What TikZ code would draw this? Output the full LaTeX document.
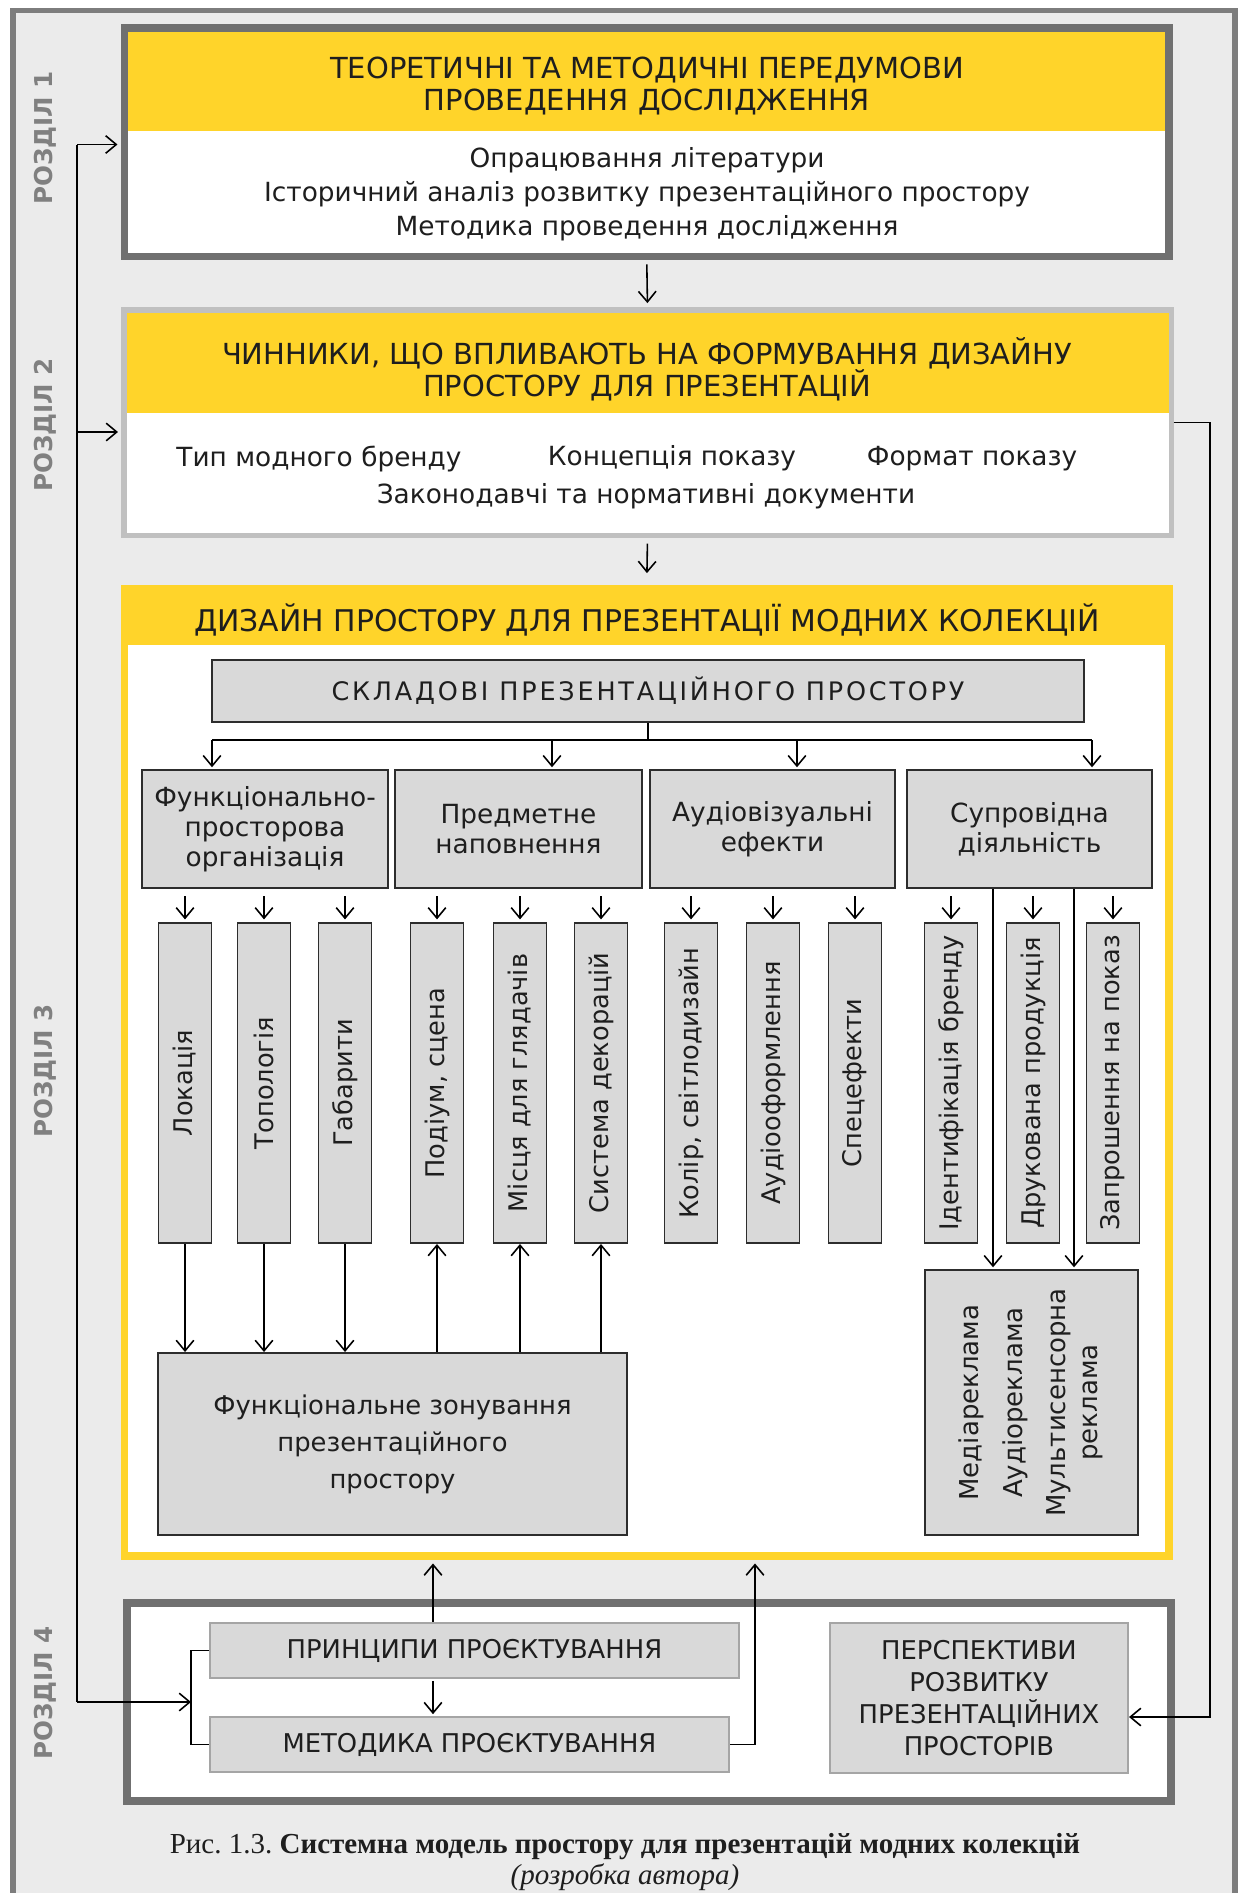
\documentclass[tikz,border=0pt]{standalone}
\usepackage{fontspec}
\setmainfont{DejaVu Sans}
\newfontfamily\captionfont{Liberation Serif}
\newfontfamily\spacedfont[LetterSpace=11]{DejaVu Sans}
\usetikzlibrary{arrows.meta, positioning, fit, calc}
\frenchspacing

\definecolor{yel}{RGB}{255,212,42}
\definecolor{bggray}{RGB}{235,235,235}
\definecolor{outerframe}{RGB}{125,125,125}
\definecolor{darkframe}{RGB}{112,112,112}
\definecolor{lightframe}{RGB}{192,192,192}
\definecolor{boxgray}{RGB}{217,217,217}
\definecolor{boxline}{RGB}{45,45,45}
\definecolor{softline}{RGB}{165,165,165}
\definecolor{labgray}{RGB}{128,128,128}
\definecolor{ink}{RGB}{30,30,30}

\begin{document}
\begin{tikzpicture}[
    x=0.2mm, y=-0.2mm, text=ink,
    band/.style = {fill=yel, inner sep=0pt},
    sheet/.style = {fill=white, inner sep=0pt},
    head/.style = {align=center, font=\fontsize{16.5}{18.3}\selectfont},
    plain/.style = {align=center, font=\fontsize{15}{19.3}\selectfont},
    block/.style = {draw=boxline, fill=boxgray, line width=1.1pt, align=center, inner sep=2pt, font=\fontsize{15}{17}\selectfont},
    slim/.style = {block, minimum width=10.6mm, minimum height=64mm, font=\fontsize{14.6}{17}\selectfont},
    planbox/.style = {draw=softline, fill=boxgray, line width=1.2pt, align=center, font=\fontsize{14.7}{18.2}\selectfont},
    part/.style = {rotate=90, text=labgray, font=\bfseries\fontsize{14}{14}\selectfont},
    link/.style = {draw=black, line width=0.9pt},
    arrow/.style = {link, -{Straight Barb[length=6pt, width=10pt]}}
  ]
  \useasboundingbox (0,0) rectangle (1245,1893);

  % Frame and sections
  \node[fill=bggray, draw=outerframe, line width=3.4pt, inner sep=0pt, fit={(13,10.5) (1235,1905)}] (page) {};
  \node[part] (part1) at (45,138) {РОЗДІЛ 1};
  \node[part] (part2) at (45,425) {РОЗДІЛ 2};
  \node[part] (part3) at (45,1071) {РОЗДІЛ 3};
  \node[part] (part4) at (45,1693) {РОЗДІЛ 4};

  % Section 1
  \node[band, fit={(124.5,28) (1169,130.5)}] (theoryHead) {};
  \node[sheet, fit={(124.5,130.5) (1169,256.5)}] (theoryBody) {};
  \node[draw=darkframe, line width=4pt, inner sep=0pt, fit={(124.5,28) (1169,256.5)}] (theory) {};
  \node[head] (theoryTitle) at (647,86) {ТЕОРЕТИЧНІ ТА МЕТОДИЧНІ ПЕРЕДУМОВИ\\ПРОВЕДЕННЯ ДОСЛІДЖЕННЯ};
  \node[plain] (theoryText) at (647,194.5) {Опрацювання літератури\\Історичний аналіз розвитку презентаційного простору\\Методика проведення дослідження};

  % Section 2
  \node[band, fit={(124,310) (1171,412.5)}] (factorsHead) {};
  \node[sheet, fit={(124,412.5) (1171,535)}] (factorsBody) {};
  \node[draw=lightframe, line width=2.85pt, inner sep=0pt, fit={(124,310) (1171,535)}] (factors) {};
  \node[head] (factorsTitle) at (647,369.5) {ЧИННИКИ, ЩО ВПЛИВАЮТЬ НА ФОРМУВАННЯ ДИЗАЙНУ\\ПРОСТОРУ ДЛЯ ПРЕЗЕНТАЦІЙ};
  \node[plain] (brand) at (319,458.5) {Тип модного бренду};
  \node[plain] (concept) at (672,458.5) {Концепція показу};
  \node[plain] (format) at (972,458.5) {Формат показу};
  \node[plain] (laws) at (646,496) {Законодавчі та нормативні документи};

  % Section 3
  \node[fill=white, draw=yel, line width=4.5pt, inner sep=0pt, fit={(124.5,589) (1169,1556)}] (design) {};
  \node[band, fit={(124.5,589) (1169,645)}] (designHead) {};
  \node[head, font=\fontsize{17}{17}\selectfont] (designTitle) at (647,620) {ДИЗАЙН ПРОСТОРУ ДЛЯ ПРЕЗЕНТАЦІЇ МОДНИХ КОЛЕКЦІЙ};

  \node[block, minimum width=174.4mm, minimum height=12.4mm, font=\spacedfont\fontsize{14.5}{17}\selectfont] (parts) at (648,691) {СКЛАДОВІ ПРЕЗЕНТАЦІЙНОГО ПРОСТОРУ};

  \node[block, minimum width=49.2mm, minimum height=23.6mm] (spatial) at (265,829) {Функціонально-\\просторова\\організація};
  \node[block, minimum width=49.4mm, minimum height=23.6mm] (subject) at (518.5,829) {Предметне\\наповнення};
  \node[block, minimum width=49mm, minimum height=23.6mm] (effects) at (772.5,829) {Аудіовізуальні\\ефекти};
  \node[block, minimum width=49mm, minimum height=23.6mm] (support) at (1029.5,829) {Супровідна\\діяльність};

  \foreach \nm/\x/\lbl in {loc/185/Локація, topo/264/Топологія, dims/345/Габарити,
      stage/437/{Подіум, сцена}, seats/520/{Місця для глядачів}, decor/601/{Система декорацій},
      light/691/{Колір, світлодизайн}, sound/773/Аудіооформлення, sfx/855/Спецефекти,
      ident/951/{Ідентифікація бренду}, print/1033/{Друкована продукція}, invite/1113/{Запрошення на показ}}
    \node[slim] (\nm) at (\x,1083) {\rotatebox{90}{\lbl}};

  \node[block, minimum width=42.6mm, minimum height=53mm, font=\fontsize{14.8}{18.2}\selectfont] (media) at (1031.5,1402.5)
    {\rotatebox{90}{\begin{tabular}{@{}c@{}}Медіареклама\\[7pt]Аудіореклама\\[6pt]Мультисенсорна\\реклама\end{tabular}}};

  \node[block, minimum width=93.8mm, minimum height=36.4mm, font=\fontsize{14.7}{21}\selectfont] (zoning) at (392.5,1444)
    {Функціональне зонування\\презентаційного\\простору};

  % Section 4
  \node[fill=white, draw=darkframe, line width=4.5pt, inner sep=0pt, fit={(127,1603) (1171,1801)}] (project) {};
  \node[planbox, minimum width=105.8mm, minimum height=11mm] (rules) at (474.5,1650.5) {ПРИНЦИПИ ПРОЄКТУВАННЯ};
  \node[planbox, minimum width=103.8mm, minimum height=11mm] (method) at (469.5,1744.5) {МЕТОДИКА ПРОЄКТУВАННЯ};
  \node[planbox, minimum width=59.6mm, minimum height=30mm] (outlook) at (979,1698) {ПЕРСПЕКТИВИ\\РОЗВИТКУ\\ПРЕЗЕНТАЦІЙНИХ\\ПРОСТОРІВ};

  \node[align=center, font=\captionfont\fontsize{16.5}{18}\selectfont] (caption) at (625,1862)
    {Рис. 1.3. \textbf{Системна модель простору для презентацій модних колекцій}\\\textit{(розробка автора)}};

  % Connectors
  \coordinate (busL) at (212,740);
  \coordinate (busB) at (552,740);
  \coordinate (busC) at (797,740);
  \coordinate (busR) at (1092,740);
  \coordinate (mx1) at (993,0);
  \coordinate (mx2) at (1074,0);
  \coordinate (xL) at (433,0);
  \coordinate (xR) at (755,0);
  \coordinate (lbT) at (77,144.5);
  \coordinate (lb2) at (77,432);
  \coordinate (lbB) at (77,1702);
  \coordinate (brk) at (191,1702);
  \coordinate (rb) at (1210,0);

  \draw[arrow, shorten <=2.5pt, shorten >=2.5pt] (theory.south) -- (factors.north);
  \draw[arrow, shorten <=3.5pt, shorten >=6.8pt] (factors.south) -- (design.north);

  \draw[link] (parts.south) -- (parts.south |- busL);
  \draw[link] (busL) -- (busR);
  \draw[arrow, shorten >=1pt] (busL) -- (busL |- spatial.north);
  \draw[arrow, shorten >=1pt] (busB) -- (busB |- subject.north);
  \draw[arrow, shorten >=1pt] (busC) -- (busC |- effects.north);
  \draw[arrow, shorten >=1pt] (busR) -- (busR |- support.north);

  \foreach \p/\c in {spatial/loc, spatial/topo, spatial/dims, subject/stage, subject/seats, subject/decor,
      effects/light, effects/sound, effects/sfx, support/ident, support/print, support/invite}
    \draw[arrow, shorten <=4pt, shorten >=1.5pt] (\c.north |- \p.south) -- (\c.north);

  \foreach \m in {mx1, mx2}
    \draw[arrow, shorten >=1pt] (\m |- support.south) -- (\m |- media.north);

  \foreach \c in {loc, topo, dims}
    \draw[arrow] (\c.south) -- (\c.south |- zoning.north);
  \foreach \c in {stage, seats, decor}
    \draw[arrow] (\c.south |- zoning.north) -- (\c.south);

  \draw[link] (lbT) -- (lbB);
  \draw[arrow, shorten >=2pt] (lbT) -- (lbT -| theory.west);
  \draw[arrow, shorten >=2pt] (lb2) -- (lb2 -| factors.west);
  \draw[arrow] (lbB) -- (brk);
  \draw[link] (rules.west) -| (brk) |- (method.west);

  \draw[arrow] (factors.east) -- (factors.east -| rb) |- ($(outlook.east)+(0,19)$);

  \draw[arrow, shorten >=2pt] (rules.north -| xL) -- (design.south -| xL);
  \draw[arrow, shorten <=1pt, shorten >=1pt] (rules.south -| xL) -- (method.north -| xL);
  \draw[arrow, shorten >=2pt] (method.east) -| (design.south -| xR);

\end{tikzpicture}
\end{document}
